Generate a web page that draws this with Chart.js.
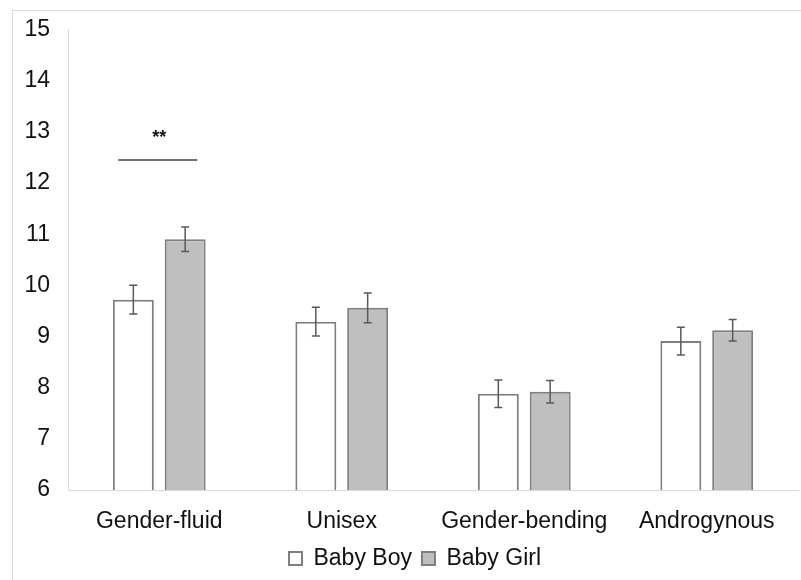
<!DOCTYPE html>
<html>
<head>
<meta charset="utf-8">
<script src="https://cdn.jsdelivr.net/npm/chart.js@4.4.0/dist/chart.umd.min.js"></script>
<style>
  html, body { margin: 0; padding: 0; background: #fff; overflow: hidden; }
  #wrap { position: relative; width: 801px; height: 580px; }
  #frame { position: absolute; left: 12px; top: 10px; width: 900px; height: 700px; border: 1px solid #d9d9d9; }
  #chart { position: absolute; left: 0; top: 0; }
</style>
</head>
<body>
<div id="wrap">
  <div id="frame"></div>
  <canvas id="chart" width="801" height="580"></canvas>
</div>
<script>
const categories = ['Gender-fluid', 'Unisex', 'Gender-bending', 'Androgynous'];
const boyValues = [9.72, 9.29, 7.88, 8.91];
const girlValues = [10.90, 9.56, 7.92, 9.12];
const boyErrors = [0.28, 0.28, 0.27, 0.27];
const girlErrors = [0.24, 0.29, 0.22, 0.21];
const yTicks = [6, 7, 8, 9, 10, 11, 12, 13, 14, 15];
// significance marker: category index, height (axis units), text
const sigMarks = [{ index: 0, value: 12.45, text: '**' }];

const errors = [boyErrors, girlErrors];
const FONT = '"Liberation Sans", Arial, sans-serif';

const errorBars = {
    id: 'errorBars',
    afterDatasetsDraw(chart) {
        const ctx = chart.ctx;
        const yScale = chart.scales.y;
        ctx.save();
        ctx.strokeStyle = '#595959';
        ctx.lineWidth = 1.5;
        chart.data.datasets.forEach((ds, di) => {
            const meta = chart.getDatasetMeta(di);
            meta.data.forEach((bar, i) => {
                const v = ds.data[i];
                const e = errors[di][i];
                const top = yScale.getPixelForValue(v + e);
                const bot = yScale.getPixelForValue(v - e);
                ctx.beginPath();
                ctx.moveTo(bar.x, top);
                ctx.lineTo(bar.x, bot);
                ctx.moveTo(bar.x - 4, top);
                ctx.lineTo(bar.x + 4, top);
                ctx.moveTo(bar.x - 4, bot);
                ctx.lineTo(bar.x + 4, bot);
                ctx.stroke();
            });
        });
        ctx.restore();
    }
};

const significance = {
    id: 'significance',
    afterDatasetsDraw(chart) {
        const ctx = chart.ctx;
        const xScale = chart.scales.x;
        const yScale = chart.scales.y;
        ctx.save();
        sigMarks.forEach(m => {
            const cx = xScale.getPixelForValue(m.index);
            const y = yScale.getPixelForValue(m.value);
            ctx.strokeStyle = '#404040';
            ctx.lineWidth = 1.5;
            ctx.beginPath();
            ctx.moveTo(cx - 41, y);
            ctx.lineTo(cx + 38, y);
            ctx.stroke();
            ctx.fillStyle = '#111';
            ctx.font = 'bold 18px ' + FONT;
            ctx.textAlign = 'center';
            ctx.textBaseline = 'bottom';
            ctx.fillText(m.text, cx, y - 13);
        });
        ctx.restore();
    }
};

// nudge the legend a little to the right
const legendShift = {
    id: 'legendShift',
    afterLayout(chart) {
        chart.legend.left += 10;
        chart.legend.right += 10;
    }
};

const ctx = document.getElementById('chart').getContext('2d');

new Chart(ctx, {
    type: 'bar',
    data: {
        labels: categories,
        datasets: [{
            label: 'Baby Boy',
            data: boyValues,
            backgroundColor: '#ffffff',
            borderColor: '#7f7f7f',
            borderWidth: 2
        }, {
            label: 'Baby Girl',
            data: girlValues,
            backgroundColor: '#bfbfbf',
            borderColor: '#7f7f7f',
            borderWidth: 2
        }]
    },
    options: {
        responsive: false,
        animation: false,
        categoryPercentage: 0.568,
        barPercentage: 0.79,
        layout: { padding: { left: 12, top: 27, right: 3, bottom: 0 } },
        plugins: {
            legend: {
                position: 'bottom',
                labels: {
                    boxWidth: 13,
                    boxHeight: 13,
                    color: '#111',
                    font: { family: FONT, size: 23 },
                    padding: 10
                }
            },
            tooltip: { enabled: false }
        },
        scales: {
            x: {
                afterFit: s => { s.height = 47; },
                grid: { display: false, drawTicks: false },
                border: { color: '#d9d9d9', width: 1 },
                ticks: {
                    color: '#111',
                    font: { family: FONT, size: 23 },
                    padding: 18,
                    maxRotation: 0
                }
            },
            y: {
                min: yTicks[0],
                max: yTicks[yTicks.length - 1],
                afterBuildTicks: s => { s.ticks = yTicks.map(v => ({ value: v })); },
                afterFit: s => { s.width = 56; },
                grid: { display: false, drawTicks: false },
                border: { color: '#d9d9d9', width: 1 },
                ticks: {
                    color: '#111',
                    font: { family: FONT, size: 23, lineHeight: 1 },
                    padding: 18
                }
            }
        }
    },
    plugins: [errorBars, significance, legendShift]
});
</script>
</body>
</html>
